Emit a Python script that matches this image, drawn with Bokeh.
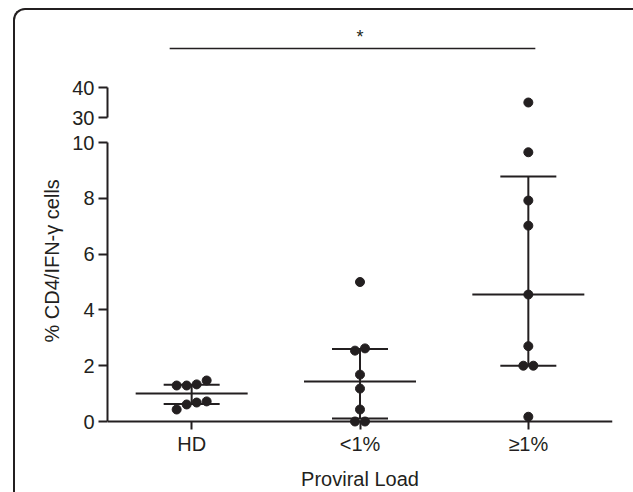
import numpy as np
from bokeh.plotting import figure
from bokeh.layouts import column
from bokeh.models import Range1d, LinearAxis, FixedTicker, Span, Title
from bokeh.embed import file_html
from bokeh.resources import INLINE
from bokeh.core.properties import value

# ---------------- data ----------------
groups = ["HD", "<1%", "≥1%"]
hd_values = [1.47, 1.29, 1.29, 1.33, 0.68, 0.43, 0.61, 0.72]
low_load_values = [5.0, 2.54, 2.62, 1.68, 1.18, 0.43, 0.0, 0.0]
high_load_values = [35.0, 9.65, 7.92, 7.02, 4.55, 2.70, 2.0, 2.0, 0.17]
lower_ticks = [0, 2, 4, 6, 8, 10]
upper_ticks = [30, 40]
y_title = "% CD4/IFN-γ cells"
x_title = "Proviral Load"
sig_label = "*"
sig_pair = (0, 2)

series = [hd_values, low_load_values, high_load_values]

# ---------------- layout ----------------
INK = "#231f20"
FONT = "Liberation Sans"
W = 618
FRAME_W = 505
LEFT, RIGHT = 92, W - 92 - FRAME_W
TOP_H, TOP_FRAME_H = 118, 108
BOT_FRAME_H, BOT_H = 301, 364
LOW_PX = 27.9          # px per unit, lower segment
UP_PX = 3.0            # px per unit, upper segment
ZERO_PAD = 8           # px of frame below 0
UP_PAD = 11            # px of top frame below 30
lower_top = max(lower_ticks)
upper_bottom = min(upper_ticks)

y_low_start = -ZERO_PAD / LOW_PX
y_low_end = y_low_start + BOT_FRAME_H / LOW_PX
y_up_start = upper_bottom - UP_PAD / UP_PX
y_up_end = y_up_start + TOP_FRAME_H / UP_PX

n = len(groups)
x_px = FRAME_W / n
centers = [i + 0.5 for i in range(n)]


def style_axis(ax):
    ax.axis_line_color = INK
    ax.axis_line_width = 2
    ax.major_tick_line_color = INK
    ax.major_tick_line_width = 2
    ax.major_tick_in = 0
    ax.major_tick_out = 9
    ax.minor_tick_line_color = None
    ax.major_label_text_font = FONT
    ax.major_label_text_font_size = "20px"
    ax.major_label_text_color = INK
    ax.major_label_standoff = 4
    ax.axis_label_text_font = FONT
    ax.axis_label_text_font_size = "20px"
    ax.axis_label_text_font_style = "normal"
    ax.axis_label_text_color = INK


def base_fig(height, y_range, top_border, bottom_border):
    f = figure(width=W, height=height, output_backend="svg", toolbar_location=None,
               x_range=Range1d(0, n), y_range=y_range,
               min_border_left=LEFT, min_border_right=RIGHT,
               min_border_top=top_border, min_border_bottom=bottom_border,
               x_axis_location=None, y_axis_location=None)
    f.grid.visible = False
    f.outline_line_color = None
    f.border_fill_color = None
    f.background_fill_color = None
    return f


top = base_fig(TOP_H, Range1d(y_up_start, y_up_end), TOP_H - TOP_FRAME_H, 0)
bot = base_fig(BOT_H, Range1d(y_low_start, y_low_end), 0, BOT_H - BOT_FRAME_H)

# upper y axis segment
yu = LinearAxis(ticker=FixedTicker(ticks=upper_ticks), bounds=(upper_bottom, max(upper_ticks)))
style_axis(yu)
top.add_layout(yu, "left")

# lower y axis segment
yl = LinearAxis(ticker=FixedTicker(ticks=lower_ticks), bounds=(0, lower_top))
style_axis(yl)
bot.add_layout(yl, "left")

# y title centred on the whole broken axis (anchored from the bottom of the frame)
bot.add_layout(Title(text=y_title, align="left", offset=87, standoff=14,
                     text_font=FONT, text_font_size="20px", text_font_style="normal",
                     text_color=INK), "left")

# x axis: line drawn at 0 inside the frame, ticks rise from the frame edge to it
xa = LinearAxis(ticker=FixedTicker(ticks=centers), axis_label=x_title,
                major_label_overrides={c: g for c, g in zip(centers, groups)})
style_axis(xa)
xa.axis_line_color = None
xa.major_tick_in = ZERO_PAD
xa.major_tick_out = 0
xa.major_label_standoff = 3
xa.axis_label_standoff = 10
bot.add_layout(xa, "below")
zero_line = Span(location=0, dimension="width", line_color=INK, line_width=2)
zero_line.level = "underlay"
bot.add_layout(zero_line)


def to_px(v):
    if v <= lower_top:
        return v * LOW_PX
    return 1000 + (v - upper_bottom) * UP_PX


# swarm placement: points closer than a dot diameter share a row, spread horizontally
DOT = 9
lo_x, lo_y, up_x, up_y = [], [], [], []
for gi, vals in enumerate(series):
    order = sorted(vals)
    rows, cur = [], [order[0]]
    for v in order[1:]:
        if to_px(v) - to_px(cur[0]) < DOT:
            cur.append(v)
        else:
            rows.append(cur)
            cur = [v]
    rows.append(cur)
    for row in rows:
        m = len(row)
        for k, v in enumerate(row):
            xo = (k - (m - 1) / 2) * (DOT + 1) / x_px
            if v <= lower_top:
                lo_x.append(centers[gi] + xo); lo_y.append(v)
            else:
                up_x.append(centers[gi] + xo); up_y.append(v)

# median + interquartile range
med, q1, q3 = [], [], []
for vals in series:
    a = np.array(vals)
    med.append(float(np.percentile(a, 50, method="weibull")))
    q1.append(float(np.percentile(a, 25, method="weibull")))
    q3.append(float(np.percentile(a, 75, method="weibull")))

MED_HALF = 56 / x_px
IQR_HALF = 28 / x_px
cx = np.array(centers)
bot.segment(x0=cx - MED_HALF, x1=cx + MED_HALF, y0=med, y1=med, line_color=INK, line_width=2)
bot.segment(x0=cx - IQR_HALF, x1=cx + IQR_HALF, y0=q1, y1=q1, line_color=INK, line_width=2)
bot.segment(x0=cx - IQR_HALF, x1=cx + IQR_HALF, y0=q3, y1=q3, line_color=INK, line_width=2)
bot.segment(x0=cx, x1=cx, y0=q1, y1=q3, line_color=INK, line_width=2)

bot.scatter(x=lo_x, y=lo_y, size=DOT, marker="circle", fill_color=INK, line_color=INK)
top.scatter(x=up_x, y=up_y, size=DOT, marker="circle", fill_color=INK, line_color=INK)

# significance bar
sig_y = upper_bottom + 69 / UP_PX
top.segment(x0=[centers[sig_pair[0]] - 22 / x_px], x1=[centers[sig_pair[1]] + 7 / x_px],
            y0=[sig_y], y1=[sig_y], line_color=INK, line_width=1.6)
top.text(x=[(centers[sig_pair[0]] + centers[sig_pair[1]]) / 2], y=[sig_y + 12 / UP_PX],
         text=[sig_label], text_font=value(FONT), text_font_size="18px", text_color=INK,
         text_align="center", text_baseline="alphabetic")

layout = column(top, bot, spacing=0,
                styles={"margin-left": "13px", "margin-top": "8px",
                        "border-top": f"2px solid {INK}", "border-left": f"2px solid {INK}",
                        "border-top-left-radius": "12px"})

open("out.html", "w").write(file_html(layout, INLINE))
